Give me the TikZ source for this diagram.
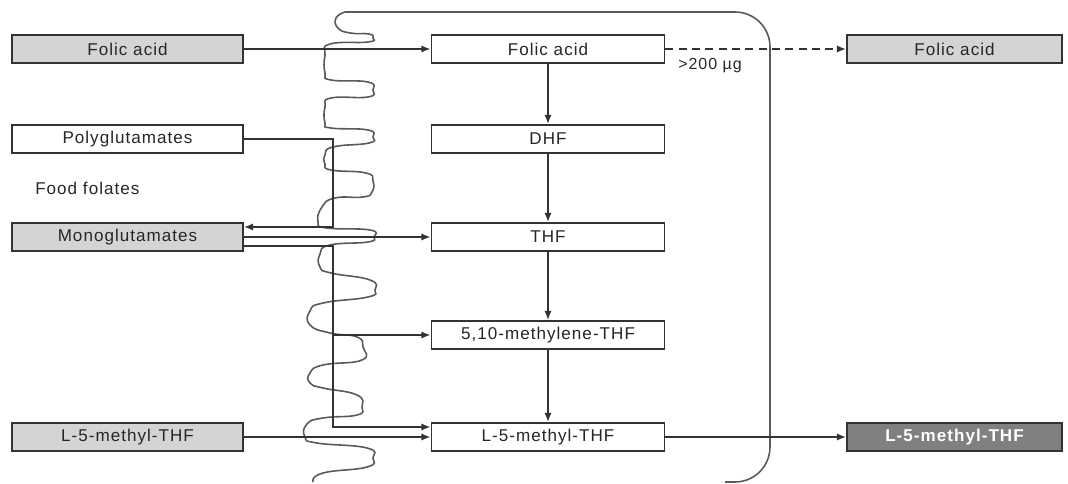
\documentclass[tikz,border=0pt]{standalone}
\usepackage{fontspec}
\setmainfont{Liberation Sans}
\newfontfamily\boxfont[LetterSpace=6.0]{Liberation Sans}
\usetikzlibrary{arrows.meta,calc}
\definecolor{lightbox}{HTML}{D4D4D6}
\definecolor{darkbox}{HTML}{808080}
\definecolor{ink}{HTML}{333333}
\definecolor{memcol}{HTML}{5A5A5A}
\begin{document}
\begin{tikzpicture}[x=0.75pt,y=-0.75pt,
  box/.style={draw=ink,line width=1.2pt,minimum height=21pt,inner sep=0pt,
    font=\boxfont\fontsize{12.8}{14}\selectfont,text=black!85},
  lbox/.style={box,minimum width=173.25pt},
  cbox/.style={box,minimum width=174.75pt,fill=white},
  rbox/.style={box,minimum width=161.25pt},
  grey/.style={fill=lightbox},
  conn/.style={draw=ink,line width=1.4pt},
  arr/.style={conn,-{Latex[length=7pt,width=5.5pt]}},
  membrane/.style={draw=memcol,line width=1.2pt}]
\useasboundingbox (0,0) rectangle (1068,484);
% membrane
\draw[membrane] (345,12) -- (735,12) to[out=0,in=90] (770,47) -- (770,447) to[out=-90,in=0] (735,482) -- (725,482);
\draw[membrane] plot[smooth,tension=0.85] coordinates {(345,12)(336,18)(338,28)(350,33)(369,34)(373,38)(368,42)(330,44)(325,55)(325,73)(331,80)(368,82)(373,90)(368,97)(331,98)(325,107)(325,123)(331,128)(368,130)(373,137)(369,143)(333,147)(325,155)(325,164)(331,170)(366,173)(373,181)(372,192)(363,197)(335,198)(322,207)(318,222)(327,228)(370,230)(374,237)(368,242)(330,245)(320,254)(320,267)(331,273)(370,280)(375,290)(368,297)(323,303)(310,311)(310,325)(330,333)(357,337)(363,347)(362,360)(323,365)(310,373)(310,383)(323,388)(357,395)(362,407)(357,415)(323,418)(307,424)(305,437)(317,443)(367,448)(373,458)(367,467)(323,473)(313,482)};
% left boxes
\node[lbox,grey] (lfa) at (127.5,49) {Folic acid};
\node[lbox] (lpoly) at (127.5,139) {Polyglutamates};
\node[lbox,grey] (lmono) at (127.5,237) {Monoglutamates};
\node[lbox,grey] (lmthf) at (127.5,437) {L-5-methyl-THF};
\node[anchor=west,font=\boxfont\fontsize{12.8}{14}\selectfont,text=black!85,inner sep=0pt] (food) at (35,188) {Food folates};
% center boxes
\node[cbox] (cfa) at (548,49) {Folic acid};
\node[cbox] (cdhf) at (548,139) {DHF};
\node[cbox] (cthf) at (548,237) {THF};
\node[cbox] (cmeth) at (548,335) {5,10-methylene-THF};
\node[cbox] (cmthf) at (548,437) {L-5-methyl-THF};
% right boxes
\node[rbox,grey] (rfa) at (954.5,49) {Folic acid};
\node[rbox,fill=darkbox,text=white,font=\boxfont\bfseries\fontsize{12.8}{14}\selectfont] (rmthf) at (954.5,437) {L-5-methyl-THF};
% connectors
\draw[arr] (lfa) -- (cfa);
\draw[arr,dashed,dash pattern=on 6pt off 4pt] (cfa) -- (rfa);
\node[font=\boxfont\fontsize{12}{13}\selectfont,text=black!85,anchor=west,inner sep=0pt] (dose) at (678,66) {>200 µg};
\draw[arr] (cfa) -- (cdhf);
\draw[arr] (cdhf) -- (cthf);
\draw[arr] (cthf) -- (cmeth);
\draw[arr] (cmeth) -- (cmthf);
\coordinate (jtop) at (333,139);
\coordinate (jmono) at (333,227);
\coordinate (jlow) at (333,246);
\coordinate (jmeth) at (333,335);
\coordinate (jend) at (333,427);
\draw[arr] (lpoly.east) -- (jtop) -- (jmono) -- ($(lmono.east)+(0,-10)$);
\draw[arr] (lmono.east) -- (cthf.west);
\draw[arr] ($(lmono.east)+(0,9)$) -- (jlow) -- (jend) -- ($(cmthf.west)+(0,-10)$);
\draw[arr] (jmeth) -- (cmeth.west);
\draw[arr] (lmthf) -- (cmthf);
\draw[arr] (cmthf) -- (rmthf);
\end{tikzpicture}
\end{document}
